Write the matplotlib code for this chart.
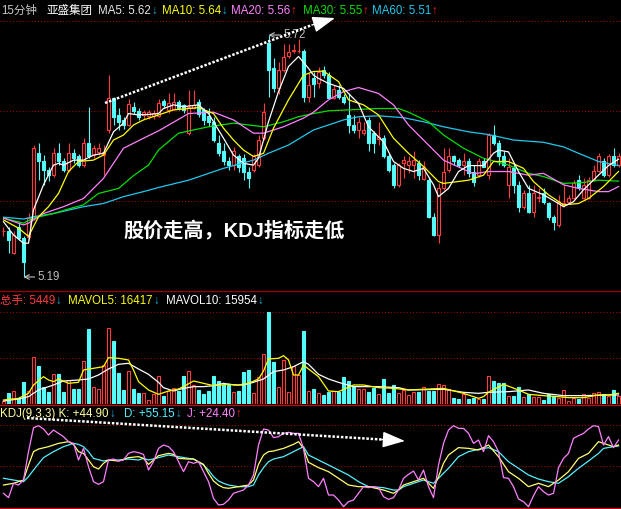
import numpy as np
import matplotlib.pyplot as plt
from matplotlib.lines import Line2D

plt.rcParams['font.family'] = ['Liberation Sans', 'Noto Sans CJK SC', 'DejaVu Sans']

W, H = 621, 509

# 15-minute candles (price)
opens = [5.29, 5.291, 5.242, 5.300, 5.275, 5.278, 5.319, 5.461, 5.443, 5.424,
         5.413, 5.461, 5.443, 5.424, 5.462, 5.454, 5.435, 5.483, 5.457, 5.464,
         5.457, 5.512, 5.581, 5.545, 5.534, 5.524, 5.563, 5.554, 5.545, 5.543,
         5.543, 5.543, 5.576, 5.556, 5.559, 5.573, 5.567, 5.505, 5.561, 5.573,
         5.556, 5.543, 5.530, 5.483, 5.465, 5.443, 5.435, 5.454, 5.450, 5.421,
         5.424, 5.435, 5.494, 5.702, 5.647, 5.603, 5.643, 5.675, 5.684, 5.684,
         5.684, 5.585, 5.625, 5.614, 5.643, 5.632, 5.583, 5.600, 5.585, 5.545,
         5.523, 5.512, 5.505, 5.534, 5.505, 5.492, 5.494, 5.454, 5.435, 5.392,
         5.439, 5.435, 5.435, 5.439, 5.405, 5.402, 5.322, 5.282, 5.384, 5.424,
         5.454, 5.446, 5.435, 5.443, 5.421, 5.413, 5.443, 5.413, 5.501, 5.483,
         5.454, 5.392, 5.428, 5.392, 5.344, 5.373, 5.333, 5.362, 5.373, 5.351,
         5.322, 5.304, 5.348, 5.355, 5.362, 5.402, 5.362, 5.362, 5.402, 5.422,
         5.443, 5.413, 5.454, 5.435]
highs = [5.30, 5.30, 5.29, 5.31, 5.28, 5.33, 5.48, 5.483, 5.457, 5.43,
         5.472, 5.483, 5.45, 5.483, 5.47, 5.46, 5.494, 5.563, 5.48, 5.483,
         5.48, 5.632, 5.585, 5.56, 5.54, 5.58, 5.574, 5.56, 5.556, 5.556,
         5.556, 5.58, 5.58, 5.592, 5.592, 5.578, 5.57, 5.599, 5.599, 5.58,
         5.56, 5.56, 5.54, 5.50, 5.483, 5.453, 5.474, 5.46, 5.46, 5.43,
         5.46, 5.50, 5.572, 5.72, 5.669, 5.66, 5.70, 5.70, 5.70, 5.712,
         5.69, 5.636, 5.639, 5.65, 5.652, 5.64, 5.61, 5.61, 5.59, 5.592,
         5.545, 5.54, 5.53, 5.54, 5.51, 5.530, 5.50, 5.46, 5.44, 5.44,
         5.454, 5.454, 5.465, 5.446, 5.443, 5.41, 5.33, 5.395, 5.472, 5.472,
         5.457, 5.45, 5.461, 5.45, 5.435, 5.45, 5.45, 5.505, 5.523, 5.49,
         5.465, 5.45, 5.44, 5.40, 5.38, 5.392, 5.392, 5.384, 5.384, 5.355,
         5.325, 5.37, 5.392, 5.37, 5.402, 5.413, 5.406, 5.41, 5.435, 5.461,
         5.45, 5.46, 5.472, 5.461]
lows = [5.28, 5.242, 5.24, 5.27, 5.19, 5.27, 5.315, 5.402, 5.392, 5.40,
        5.41, 5.435, 5.42, 5.42, 5.44, 5.43, 5.43, 5.45, 5.45, 5.457,
        5.413, 5.505, 5.523, 5.512, 5.515, 5.52, 5.548, 5.534, 5.537, 5.535,
        5.535, 5.54, 5.56, 5.55, 5.555, 5.555, 5.55, 5.50, 5.558, 5.54,
        5.523, 5.52, 5.485, 5.454, 5.435, 5.424, 5.424, 5.42, 5.403, 5.384,
        5.42, 5.43, 5.49, 5.585, 5.596, 5.59, 5.64, 5.67, 5.68, 5.68,
        5.574, 5.574, 5.585, 5.603, 5.625, 5.58, 5.58, 5.58, 5.57, 5.505,
        5.505, 5.494, 5.50, 5.465, 5.461, 5.479, 5.45, 5.42, 5.384, 5.388,
        5.406, 5.417, 5.406, 5.402, 5.402, 5.32, 5.28, 5.264, 5.38, 5.42,
        5.435, 5.43, 5.413, 5.41, 5.39, 5.41, 5.43, 5.405, 5.479, 5.435,
        5.43, 5.362, 5.373, 5.333, 5.34, 5.33, 5.322, 5.355, 5.35, 5.315,
        5.293, 5.30, 5.344, 5.35, 5.36, 5.38, 5.36, 5.36, 5.40, 5.42,
        5.41, 5.41, 5.43, 5.43]
closes = [5.29, 5.271, 5.282, 5.275, 5.222, 5.319, 5.472, 5.443, 5.424, 5.413,
          5.461, 5.443, 5.424, 5.461, 5.45, 5.435, 5.483, 5.454, 5.472, 5.472,
          5.464, 5.581, 5.541, 5.530, 5.523, 5.570, 5.554, 5.541, 5.551, 5.551,
          5.550, 5.572, 5.567, 5.572, 5.574, 5.561, 5.556, 5.563, 5.567, 5.546,
          5.534, 5.530, 5.490, 5.461, 5.443, 5.435, 5.465, 5.432, 5.421, 5.406,
          5.454, 5.490, 5.552, 5.643, 5.603, 5.643, 5.672, 5.683, 5.687, 5.686,
          5.585, 5.610, 5.612, 5.640, 5.632, 5.583, 5.602, 5.585, 5.574, 5.523,
          5.512, 5.530, 5.512, 5.483, 5.483, 5.496, 5.454, 5.424, 5.392, 5.435,
          5.446, 5.443, 5.446, 5.413, 5.432, 5.322, 5.282, 5.384, 5.421, 5.454,
          5.443, 5.435, 5.443, 5.417, 5.399, 5.443, 5.432, 5.501, 5.483, 5.454,
          5.435, 5.432, 5.392, 5.344, 5.373, 5.333, 5.373, 5.366, 5.355, 5.322,
          5.311, 5.355, 5.352, 5.362, 5.395, 5.384, 5.392, 5.402, 5.422, 5.454,
          5.413, 5.454, 5.435, 5.454]
volumes = [4650, 16540, 20160, 8790, 33600, 20160, 72380, 58940, 26880, 18100,
           46010, 46010, 19130, 37220, 23270, 23270, 66690, 116330, 26880, 23270,
           60490, 117360, 97710, 47560, 21710, 51180, 23270, 16540, 16540, 6200,
           14990, 43950, 12930, 20160, 24300, 20160, 43950, 51180, 29470, 21710,
           14990, 20160, 43950, 35670, 29470, 31540, 18100, 20160, 49120, 52730,
           16540, 42390, 77030, 142180, 64630, 26880, 68240, 18100, 59460, 44980,
           113220, 20680, 23270, 16540, 13960, 18100, 20160, 18100, 41880, 35670,
           26880, 23270, 23270, 18100, 24300, 14990, 38780, 16540, 29470, 16540,
           21710, 13960, 18100, 18100, 25850, 20160, 20160, 30500, 29470, 23270,
           8790, 7760, 14990, 7760, 9820, 7760, 7760, 43430, 35670, 32050,
           32050, 12930, 12930, 26880, 11370, 14990, 11370, 11370, 6200, 14990,
           12930, 9820, 21200, 4650, 8790, 7760, 14990, 9820, 16540, 19130,
           14990, 12930, 21200, 12930]

# moving averages (bar index, value)
ma5_x = [0, 2, 4, 5, 6, 8, 10, 11, 12, 14, 16, 18, 20, 22, 24, 25, 27, 29, 31, 32,
         34, 36, 39, 41, 44, 46, 48, 50, 51, 53, 55, 57, 59, 61, 62, 63, 65, 68, 71, 73,
         76, 78, 80, 82, 84, 86, 87, 89, 91, 93, 96, 98, 99, 101, 103, 105, 108, 111, 112, 114,
         116, 119, 121, 123]
ma5_y = [5.311, 5.282, 5.264, 5.264, 5.337, 5.392, 5.435, 5.439, 5.435, 5.446,
         5.446, 5.457, 5.461, 5.508, 5.527, 5.548, 5.545, 5.546, 5.548, 5.559,
         5.567, 5.563, 5.567, 5.548, 5.494, 5.457, 5.439, 5.435, 5.450, 5.530,
         5.596, 5.651, 5.673, 5.647, 5.632, 5.625, 5.614, 5.603, 5.570, 5.519,
         5.486, 5.443, 5.428, 5.421, 5.428, 5.392, 5.366, 5.384, 5.421, 5.434,
         5.434, 5.461, 5.468, 5.464, 5.421, 5.384, 5.370, 5.351, 5.344, 5.355,
         5.381, 5.413, 5.434, 5.448]
ma10_x = [0, 3, 5, 7, 9, 11, 13, 15, 18, 20, 22, 24, 26, 28, 31, 34, 39, 42, 44, 46,
          48, 50, 52, 54, 57, 60, 62, 64, 67, 69, 72, 75, 78, 81, 84, 87, 88, 93, 96, 98,
          101, 104, 106, 109, 112, 115, 117, 120, 123]
ma10_y = [5.315, 5.297, 5.279, 5.322, 5.344, 5.373, 5.421, 5.443, 5.446, 5.457,
          5.490, 5.501, 5.523, 5.534, 5.545, 5.556, 5.561, 5.548, 5.516, 5.490,
          5.468, 5.454, 5.461, 5.516, 5.578, 5.632, 5.640, 5.641, 5.618, 5.578,
          5.567, 5.545, 5.494, 5.461, 5.432, 5.399, 5.395, 5.402, 5.413, 5.443,
          5.443, 5.428, 5.399, 5.370, 5.348, 5.351, 5.362, 5.388, 5.421]
ma20_x = [0, 4, 5, 8, 12, 16, 20, 24, 28, 31, 37, 42, 46, 50, 52, 56, 60, 62, 65, 68,
          71, 75, 78, 81, 85, 88, 92, 94, 97, 101, 105, 108, 112, 115, 119, 121, 123]
ma20_y = [5.319, 5.304, 5.308, 5.329, 5.344, 5.362, 5.406, 5.472, 5.494, 5.510,
          5.548, 5.551, 5.534, 5.505, 5.505, 5.519, 5.538, 5.551, 5.578, 5.596,
          5.605, 5.592, 5.567, 5.523, 5.479, 5.446, 5.426, 5.416, 5.421, 5.421,
          5.413, 5.417, 5.392, 5.384, 5.377, 5.377, 5.388]
ma30_x = [0, 4, 6, 10, 13, 16, 19, 23, 26, 29, 31, 35, 41, 46, 52, 56, 59, 62, 65, 75,
          79, 81, 85, 88, 92, 96, 101, 105, 108, 112, 116, 119, 123]
ma30_y = [5.319, 5.308, 5.319, 5.329, 5.339, 5.348, 5.373, 5.384, 5.412, 5.435,
          5.468, 5.505, 5.519, 5.527, 5.519, 5.530, 5.541, 5.548, 5.554, 5.559,
          5.559, 5.551, 5.530, 5.501, 5.472, 5.450, 5.435, 5.417, 5.410, 5.395,
          5.397, 5.402, 5.400]
ma60_x = [0, 4, 6, 10, 16, 20, 24, 28, 31, 37, 44, 50, 53, 57, 62, 68, 71, 75, 80, 84,
          88, 93, 97, 102, 108, 112, 115, 119, 123]
ma60_y = [5.321, 5.317, 5.322, 5.329, 5.344, 5.351, 5.366, 5.377, 5.386, 5.402,
          5.428, 5.446, 5.461, 5.479, 5.512, 5.534, 5.541, 5.543, 5.539, 5.530,
          5.519, 5.508, 5.502, 5.490, 5.485, 5.475, 5.461, 5.443, 5.434]

mavol5_x = [0, 3, 5, 6, 8, 9, 10, 11, 13, 15, 16, 18, 20, 21, 23, 25, 26, 27, 29, 31,
            33, 35, 36, 38, 40, 42, 45, 47, 49, 51, 52, 53, 55, 56, 57, 58, 59, 60, 61, 63,
            65, 67, 70, 72, 75, 78, 81, 88, 92, 95, 96, 97, 100, 103, 105, 108, 111, 113, 116, 119,
            121, 123]
mavol5_y = [6200, 8790, 16540, 29470, 42390, 37220, 34640, 38780, 32050, 33600,
            52730, 55320, 57900, 71860, 70830, 68240, 52730, 34640, 21710, 14990,
            20160, 23270, 26880, 35670, 32050, 28440, 30500, 29470, 32050, 38780,
            51180, 69800, 70830, 74970, 68240, 44980, 44980, 60490, 54290, 42390,
            20160, 19130, 29470, 29470, 25330, 24300, 21710, 24300, 16540, 8790,
            11370, 18100, 30500, 21710, 14990, 12930, 11370, 9820, 9820, 13960,
            13960, 16540]
mavol10_x = [0, 3, 5, 7, 10, 12, 15, 17, 19, 21, 23, 25, 27, 29, 31, 32, 34, 36, 38, 40,
             42, 44, 46, 48, 50, 52, 54, 56, 58, 60, 61, 63, 65, 67, 70, 75, 79, 81, 88, 92,
             95, 97, 101, 105, 108, 112, 116, 121, 123]
mavol10_y = [4650, 7760, 11370, 21710, 29470, 35670, 37220, 38780, 44980, 54290,
             61520, 63070, 54290, 46010, 33600, 25330, 20160, 24300, 26880, 26880,
             28440, 32050, 29470, 29470, 33600, 38780, 50150, 52730, 57900, 65660,
             61520, 46010, 38780, 33600, 26880, 26880, 25330, 21710, 22750, 18100,
             16540, 18100, 19130, 21710, 16540, 12930, 12930, 13960, 13960]

# KDJ(9,3,3)
kdj_j = [16.7, 11.4, 28.9, 26.8, 32.9, 67.5, 96.7, 99.2, 95.1, 87.8,
         93.9, 89.8, 85.8, 79.7, 77.6, 57.3, 71.5, 49.2, 30.9, 27.6,
         30.9, 57.3, 58.5, 56.1, 57.3, 65.4, 67.5, 66.3, 64.2, 45.1,
         55.3, 71.5, 75.6, 73.6, 67.5, 55.3, 43.1, 55.3, 53.3, 55.3,
         43.1, 30.9, 10.6, 2.4, 3.3, 8.5, 16.7, 18.7, 20.7, 26.8,
         39.0, 75.6, 95.1, 93.9, 84.6, 85.8, 89.8, 91.1, 89.8, 89.8,
         71.5, 35.0, 30.9, 24.8, 35.0, 14.6, 14.6, 8.5, 0.4, 6.5,
         8.5, 16.7, 24.8, 23.6, 24.8, 23.6, 12.6, 9.3, 11.4, 20.7,
         35.0, 39.8, 43.9, 32.9, 45.1, 24.8, 11.4, 51.2, 77.6, 93.9,
         99.2, 95.9, 95.9, 89.8, 77.6, 81.7, 67.5, 87.0, 79.7, 67.5,
         35.8, 35.0, 24.8, 9.8, 6.5, 0.4, 13.8, 24.8, 18.7, 14.6,
         16.7, 48.0, 59.3, 65.4, 83.7, 87.0, 89.8, 95.1, 99.2, 98.0,
         75.6, 85.8, 72.4, 81.7]
kdj_k_x = [0, 2, 4, 5, 6, 7, 9, 11, 13, 14, 15, 16, 17, 18, 19, 20, 21, 23, 25, 27,
           28, 29, 30, 31, 33, 34, 35, 37, 38, 40, 41, 42, 43, 44, 45, 47, 49, 50, 51, 52,
           53, 54, 56, 58, 59, 60, 61, 63, 65, 67, 69, 71, 73, 76, 78, 79, 80, 82, 84, 86,
           87, 88, 89, 91, 93, 95, 97, 99, 101, 103, 105, 107, 109, 111, 113, 115, 117, 119, 120, 122,
           123]
kdj_k = [26.8, 28.9, 32.9, 51.2, 67.5, 70.7, 73.6, 77.6, 79.7, 76.4,
         67.5, 65.4, 57.3, 49.2, 46.3, 53.3, 57.3, 56.1, 60.2, 61.4,
         59.3, 52.0, 57.3, 62.6, 65.4, 64.2, 59.3, 58.5, 58.5, 52.0,
         41.1, 31.7, 26.8, 23.6, 22.8, 24.8, 26.8, 32.9, 52.0, 63.4,
         67.5, 68.3, 71.5, 76.4, 79.7, 71.5, 54.5, 48.0, 43.1, 35.0,
         26.8, 24.8, 24.8, 20.7, 16.7, 20.7, 26.8, 30.9, 35.0, 22.8,
         37.0, 53.3, 63.4, 72.4, 71.5, 69.5, 75.6, 61.4, 43.1, 35.0,
         24.8, 28.9, 24.8, 32.9, 43.1, 59.3, 65.4, 79.7, 77.6, 73.6,
         75.6]
kdj_d_x = [0, 2, 4, 5, 6, 8, 10, 12, 14, 15, 16, 17, 18, 20, 21, 23, 25, 27, 28, 29,
           31, 33, 35, 37, 38, 40, 41, 42, 43, 44, 45, 47, 49, 50, 51, 52, 53, 54, 56, 58,
           60, 61, 63, 65, 67, 69, 71, 73, 76, 78, 79, 80, 82, 84, 86, 87, 89, 91, 93, 95,
           97, 99, 101, 103, 105, 107, 109, 111, 113, 115, 117, 119, 120, 122, 123]
kdj_d = [35.0, 32.9, 30.9, 37.0, 45.1, 60.2, 67.5, 73.6, 77.6, 76.4,
         73.6, 67.5, 59.3, 56.1, 57.3, 57.3, 58.5, 57.3, 59.3, 57.3,
         60.2, 63.4, 61.4, 59.3, 58.5, 51.2, 45.1, 37.0, 31.7, 28.9,
         26.8, 24.8, 24.8, 26.8, 39.0, 48.0, 55.3, 58.5, 61.4, 67.5,
         73.6, 63.4, 57.3, 51.2, 45.1, 39.0, 30.9, 24.8, 23.6, 20.7,
         20.7, 24.8, 28.9, 32.9, 28.9, 35.0, 47.2, 61.4, 67.5, 70.3,
         72.4, 67.5, 55.3, 47.2, 39.0, 34.1, 30.9, 28.9, 37.0, 47.2,
         56.1, 65.4, 71.5, 73.6, 74.4]

RED = '#ff3c3c'
CYAN = '#54fcfc'
GRID = '#a80000'

fig = plt.figure(figsize=(W / 100, H / 100), dpi=100, facecolor='black')


def pane(top, bottom):
    a = fig.add_axes([0, 1 - bottom / H, 1, (bottom - top) / H])
    a.set_axis_off()
    a.set_xlim(-0.7, 123.5)
    return a


ax = pane(0, 289)
axv = pane(290, 404)
axk = pane(405, 509)
ax.set_ylim(5.1637, 5.7967)
axv.set_ylim(0, 176700)
axk.set_ylim(-2.44, 124.4)

for a, levels in ((ax, [5.7507, 5.5536, 5.3564]), (axv, [142600, 71300]), (axk, [100, 50])):
    for lv in levels:
        a.axhline(lv, color=GRID, lw=0.75, ls=(0, (1, 2)), zorder=0)

idx = np.arange(len(closes))
o = np.array(opens)
c = np.array(closes)
up = c >= o
edge = np.where(up, RED, CYAN)
face = np.where(up, 'black', CYAN)

# candles
ax.vlines(idx, lows, highs, colors=edge, lw=0.8, zorder=2)
body = np.maximum(np.abs(c - o), 0.0012)
ax.bar(idx, body, 0.6, np.minimum(o, c), color=face, edgecolor=edge, lw=0.8, zorder=3)

for xs, ys, col in ((ma60_x, ma60_y, '#22c8ee'), (ma30_x, ma30_y, '#00e000'),
                    (ma20_x, ma20_y, '#ff80ff'), (ma10_x, ma10_y, '#ffff00'),
                    (ma5_x, ma5_y, '#ffffff')):
    ax.plot(xs, ys, color=col, lw=0.9, zorder=4)

ax.annotate('5.72', xy=(53, 5.72), xytext=(15, 0), textcoords='offset pixels',
            color='#c0c0c0', fontsize=8.3, ha='left', va='center',
            arrowprops=dict(arrowstyle='->', color='#c0c0c0', lw=0.8, shrinkA=0, shrinkB=0))
ax.annotate('5.19', xy=(4, 5.19), xytext=(14, 0), textcoords='offset pixels',
            color='#c0c0c0', fontsize=8.3, ha='left', va='center',
            arrowprops=dict(arrowstyle='->', color='#c0c0c0', lw=0.8, shrinkA=0, shrinkB=0))

# volume
axv.bar(idx, volumes, 0.6, color=face, edgecolor=edge, lw=0.8, zorder=2)
axv.plot(mavol10_x, mavol10_y, color='white', lw=0.9, zorder=3)
axv.plot(mavol5_x, mavol5_y, color='#ffff00', lw=0.9, zorder=3)

# KDJ
axk.plot(kdj_d_x, kdj_d, color='#55f0ff', lw=0.9)
axk.plot(kdj_k_x, kdj_k, color='#ffff70', lw=0.9)
axk.plot(idx, kdj_j, color='#ff80ff', lw=0.9)

# panel separators
for py, col in ((290.5, '#a00000'), (404.5, '#d00000'), (507.5, '#d00000')):
    fig.add_artist(Line2D([0, 1], [1 - py / H] * 2, transform=fig.transFigure, color=col, lw=0.9))


def dotted_arrow(p0, p1, tip):
    fig.add_artist(Line2D([p0[0] / W, p1[0] / W], [1 - p0[1] / H, 1 - p1[1] / H],
                          transform=fig.transFigure, color='white', lw=1.8,
                          ls=(0, (1, 0.7)), dash_capstyle='butt'))
    ax.annotate('', xy=(tip[0], H - tip[1]), xycoords='figure pixels',
                xytext=(p1[0], H - p1[1]), textcoords='figure pixels', annotation_clip=False,
                arrowprops=dict(arrowstyle='-|>,head_length=1.4,head_width=0.5', color='white',
                                lw=1, shrinkA=0, shrinkB=0, mutation_scale=10))


dotted_arrow((105, 103), (312, 25), (335, 18))
dotted_arrow((27, 418), (382, 439.5), (405, 441))

renderer = fig.canvas.get_renderer()
ARR_DN = '#20b0e0'
ARR_UP = '#ff2020'


def label(x, y, s, col, arrow=None, arrow_col=None):
    t = fig.text(x / W, 1 - y / H, s, color=col, fontsize=8.3, ha='left', va='center')
    if arrow:
        x1 = t.get_window_extent(renderer).x1
        fig.text((x1 + 0.5) / W, 1 - y / H, arrow, color=arrow_col, fontsize=8.3,
                 ha='left', va='center')


label(1, 11, '15分钟', '#c8c8c8')
label(46, 11, '亚盛集团', 'white')
label(98, 11, 'MA5: 5.62', '#e8e8e8', '↓', ARR_DN)
label(162, 11, 'MA10: 5.64', '#ffff00', '↓', ARR_DN)
label(231, 11, 'MA20: 5.56', '#ff80ff', '↑', ARR_UP)
label(303, 11, 'MA30: 5.55', '#00e000', '↑', ARR_UP)
label(372, 11, 'MA60: 5.51', '#22c8ee', '↑', ARR_UP)

label(0, 301, '总手: 5449', '#ff3c3c', '↓', ARR_DN)
label(68, 301, 'MAVOL5: 16417', '#ffff00', '↓', ARR_DN)
label(166, 301, 'MAVOL10: 15954', 'white', '↓', ARR_DN)

label(0, 414, 'KDJ(9,3,3) K: +44.90', '#ffffa0', '↓', ARR_DN)
label(124, 414, 'D: +55.15', '#55f0ff', '↓', ARR_DN)
label(187, 414, 'J: +24.40', '#ff80ff', '↑', ARR_UP)

fig.text(234 / W, 1 - 231 / H, '股价走高，KDJ指标走低', color='white', fontsize=14.5,
         fontweight='bold', ha='center', va='center')

fig.savefig('out.png', dpi=100, facecolor='black')
